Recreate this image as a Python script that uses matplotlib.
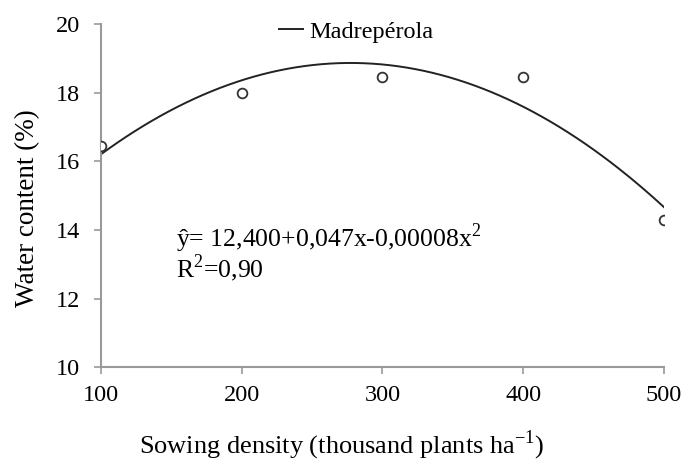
import numpy as np
import matplotlib
matplotlib.use("Agg")
import matplotlib.pyplot as plt

plt.rcParams["font.family"] = ["Liberation Serif", "DejaVu Serif"]

density = [100, 200, 300, 400, 500]
water = [16.45, 18.0, 18.45, 18.45, 14.3]

# quadratic trend line fitted to the observed points
coef = np.polyfit(density, water, 2)
xs = np.linspace(100, 500, 200)
ys = np.polyval(coef, xs)

fig = plt.figure(figsize=(6.83, 4.63), dpi=100)
ax = fig.add_axes([0.148, 0.207, 0.824, 0.741])

ax.plot(xs, ys, color="#222222", linewidth=1.4, label="Madrepérola", zorder=2)
ax.plot(density, water, "o", markerfacecolor="white", markeredgecolor="#333333",
        markersize=7, markeredgewidth=1.3, linestyle="none", zorder=3)

ax.set_xlim(100, 500)
ax.set_ylim(10, 20)
ax.set_xticks([100, 200, 300, 400, 500])
ax.set_yticks([10, 12, 14, 16, 18, 20])
ax.tick_params(labelsize=17.5, direction="out", length=5, color="#999999", width=1.2)
ax.tick_params(axis="y", pad=10)
ax.tick_params(axis="x", pad=8)

for side in ["top", "right"]:
    ax.spines[side].set_visible(False)
for side in ["left", "bottom"]:
    ax.spines[side].set_color("#999999")
    ax.spines[side].set_linewidth(1.5)

ax.set_xlabel("Sowing density (thousand plants ha$^{\\mathregular{-1}}$)", fontsize=19)
ax.set_ylabel("Water content (%)", fontsize=19.5)
ax.xaxis.label.set_va("center")
ax.yaxis.label.set_va("center")
ax.xaxis.set_label_coords(0.428, -0.228)
ax.yaxis.set_label_coords(-0.131, 0.464)

ax.text(0.133, 0.35, "ŷ= 12,400+0,047x-0,00008x$^{\\mathregular{2}}$", transform=ax.transAxes, fontsize=18.5)
ax.text(0.133, 0.262, "R$^{\\mathregular{2}}$=0,90", transform=ax.transAxes, fontsize=18.5)

ax.legend(loc="center", bbox_to_anchor=(0.453, 0.978), frameon=False, fontsize=17.5,
          handlelength=1.0, handletextpad=0.25)

fig.savefig("out.png", dpi=100)
